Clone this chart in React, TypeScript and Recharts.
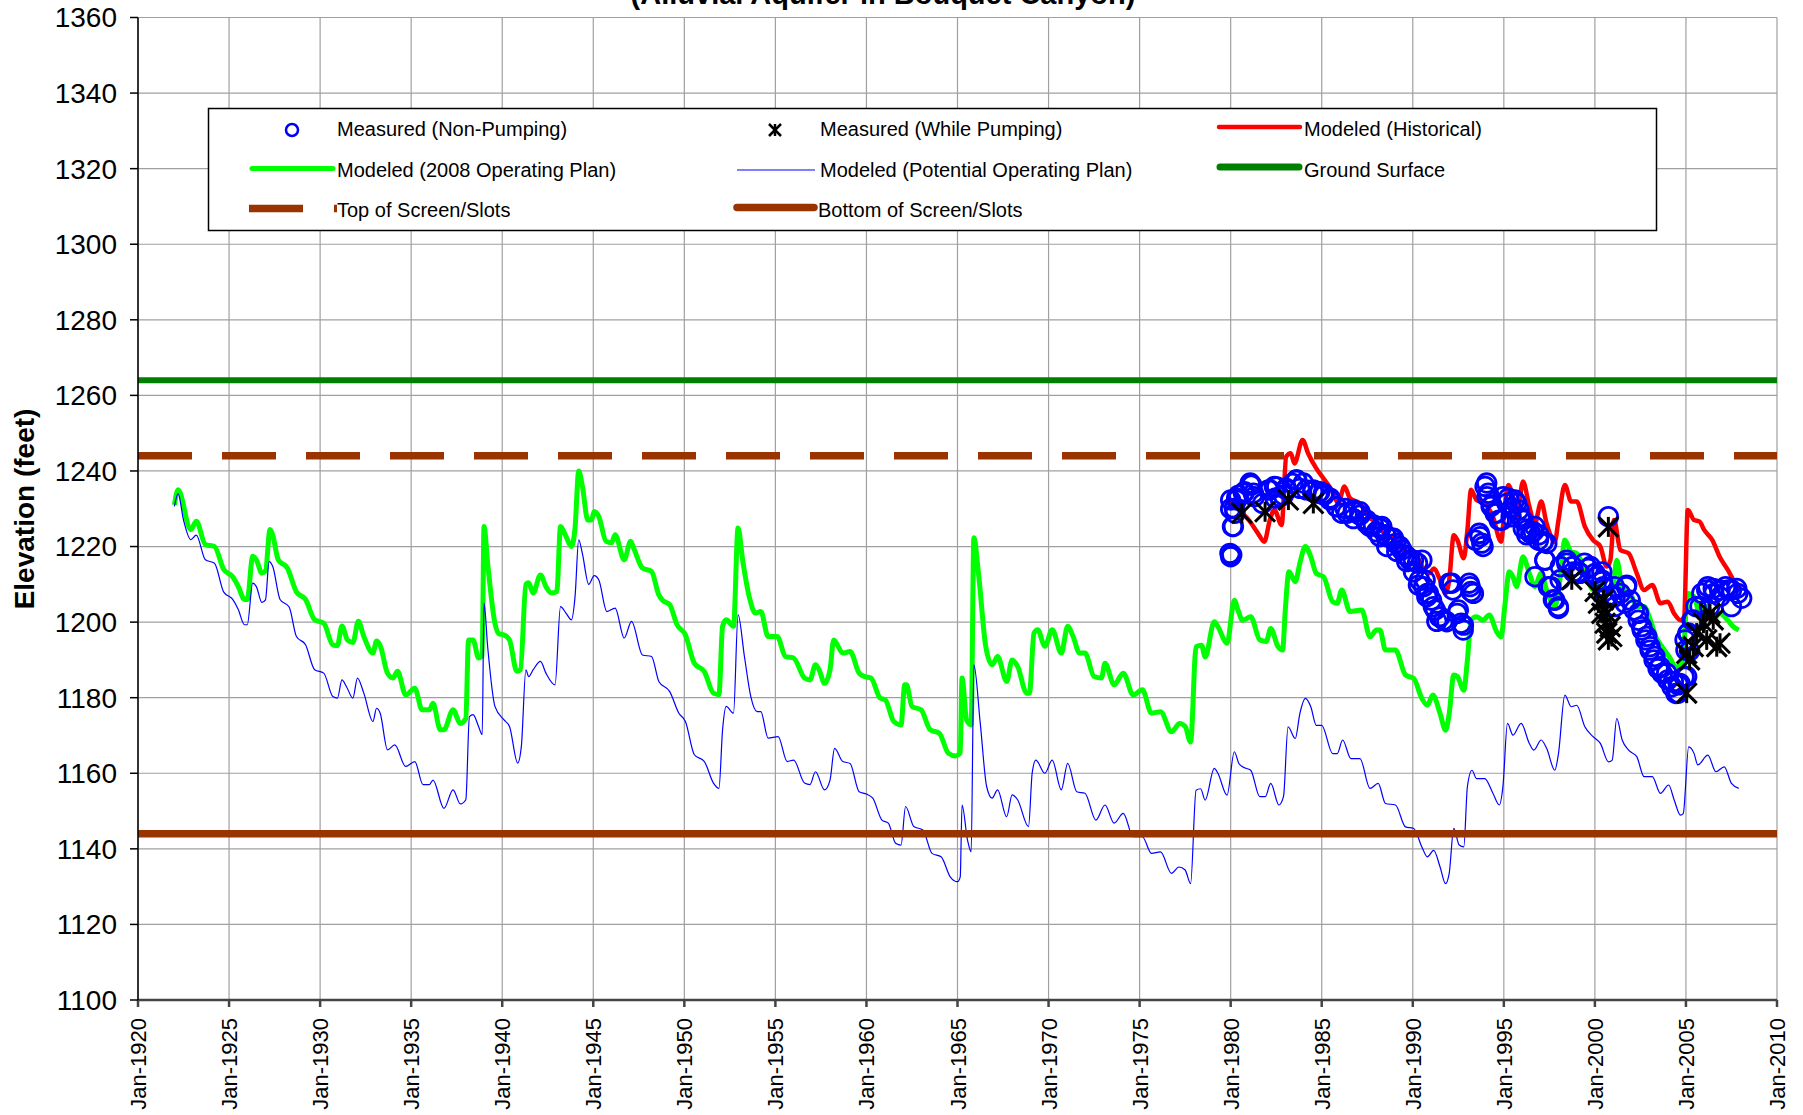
import React from 'react';
import {
  ComposedChart,
  Line,
  Scatter,
  XAxis,
  YAxis,
  CartesianGrid,
  ReferenceLine,
} from 'recharts';

// axis ticks
const YEAR_TICKS = [1920, 1925, 1930, 1935, 1940, 1945, 1950, 1955, 1960, 1965, 1970, 1975, 1980, 1985, 1990, 1995, 2000, 2005, 2010];
const ELEV_TICKS = [1100, 1120, 1140, 1160, 1180, 1200, 1220, 1240, 1260, 1280, 1300, 1320, 1340, 1360];

// constant levels (feet)
const GROUND_SURFACE = 1264;
const TOP_OF_SCREEN = 1244;
const BOTTOM_OF_SCREEN = 1144;

// Modeled (2008 Operating Plan) - [year, elevation]
const PLAN_2008: [number, number][] = [
  [1922.0, 1231], [1922.2, 1235], [1922.9, 1224.5], [1923.2, 1226.7], [1923.7, 1220.5], [1924.2, 1220],
  [1924.7, 1214], [1925.2, 1212], [1925.5, 1209.5], [1925.85, 1206], [1926.0, 1206], [1926.3, 1217.4],
  [1926.5, 1216.5], [1926.8, 1213], [1927.0, 1213.5], [1927.25, 1224.5], [1927.4, 1223], [1927.7, 1216.5],
  [1928.2, 1214.3], [1928.7, 1208], [1929.2, 1206], [1929.7, 1200.6], [1930.2, 1199.7], [1930.7, 1194],
  [1930.95, 1193.8], [1931.2, 1199], [1931.5, 1195.3], [1931.8, 1194.6], [1932.1, 1200.2], [1932.4, 1196.2],
  [1932.9, 1191.8], [1933.1, 1195], [1933.3, 1193.8], [1933.7, 1186.5], [1934.0, 1185.2], [1934.25, 1187],
  [1934.7, 1180.7], [1935.2, 1182.5], [1935.6, 1176.8], [1936.0, 1176.8], [1936.2, 1178.5], [1936.6, 1171.5],
  [1936.8, 1171.5], [1937.3, 1176.8], [1937.7, 1173.2], [1938.0, 1174.5], [1938.15, 1195.3], [1938.4, 1195.3],
  [1938.7, 1190.5], [1938.9, 1191], [1939.0, 1225.3], [1939.2, 1215.6], [1939.6, 1199.7], [1939.8, 1197],
  [1940.1, 1196.6], [1940.4, 1195.3], [1940.8, 1187], [1941.0, 1187.4], [1941.3, 1210], [1941.45, 1210.4],
  [1941.7, 1207.7], [1942.1, 1212.5], [1942.4, 1209.4], [1942.7, 1207.7], [1943.0, 1208.1], [1943.2, 1225.3],
  [1943.5, 1222.7], [1943.8, 1220], [1944.0, 1225], [1944.2, 1240], [1944.4, 1236], [1944.7, 1227],
  [1944.9, 1227], [1945.05, 1229.3], [1945.3, 1228], [1945.7, 1221.4], [1946.0, 1221], [1946.2, 1223.1],
  [1946.7, 1216.5], [1947.05, 1221.4], [1947.25, 1219.2], [1947.7, 1214.3], [1948.2, 1213.4], [1948.6, 1207.2],
  [1948.8, 1205.8], [1949.2, 1204.6], [1949.6, 1199.3], [1950.06, 1196.6], [1950.55, 1189.1], [1951.1, 1186.9],
  [1951.6, 1181.2], [1951.9, 1180.8], [1952.1, 1198.9], [1952.3, 1200.6], [1952.7, 1198.9], [1952.95, 1224.9],
  [1953.2, 1216.5], [1953.6, 1206], [1953.9, 1202.4], [1954.2, 1202.8], [1954.6, 1196.2], [1955.1, 1196.2],
  [1955.55, 1190.9], [1956.0, 1190.5], [1956.6, 1185.2], [1956.9, 1184.7], [1957.2, 1188.7], [1957.4, 1187.4],
  [1957.7, 1183.8], [1958.0, 1187.4], [1958.2, 1195.3], [1958.7, 1191.8], [1959.1, 1192.2], [1959.6, 1186.5],
  [1959.9, 1185.6], [1960.25, 1185.2], [1960.75, 1179.9], [1961.04, 1179.4], [1961.5, 1173.7], [1961.9, 1172.8],
  [1962.1, 1183.4], [1962.2, 1183.4], [1962.5, 1177.7], [1963.0, 1176.8], [1963.5, 1171.5], [1964.0, 1170.6],
  [1964.5, 1165.3], [1964.9, 1164.6], [1965.15, 1165.3], [1965.25, 1185.2], [1965.5, 1174.1], [1965.75, 1172.8],
  [1965.9, 1222.3], [1966.15, 1213], [1966.55, 1193.6], [1966.9, 1188.7], [1967.2, 1190.9], [1967.7, 1184.3],
  [1968.0, 1190], [1968.3, 1188.3], [1968.8, 1181.2], [1968.95, 1181.2], [1969.2, 1197.1], [1969.4, 1198],
  [1969.8, 1193.6], [1970.2, 1198], [1970.7, 1191.8], [1971.05, 1198.9], [1971.35, 1196.2], [1971.7, 1191.8],
  [1972.0, 1191.8], [1972.5, 1185.6], [1972.9, 1185.2], [1973.1, 1189.1], [1973.6, 1183.4], [1974.1, 1186.5],
  [1974.65, 1180.7], [1975.15, 1182.1], [1975.65, 1175.9], [1976.15, 1176.3], [1976.75, 1171], [1977.2, 1173.2],
  [1977.5, 1172.4], [1977.8, 1168.3], [1978.1, 1193.5], [1978.4, 1193.9], [1978.6, 1190.8], [1979.1, 1200.1],
  [1979.3, 1198.8], [1979.8, 1194.4], [1980.2, 1205.8], [1980.4, 1203.2], [1980.65, 1200.5], [1981.1, 1201.4],
  [1981.6, 1195.3], [1981.95, 1194.9], [1982.2, 1198.3], [1982.6, 1193.5], [1982.85, 1192.6], [1983.0, 1203.2],
  [1983.2, 1213.3], [1983.55, 1210.7], [1983.8, 1215.6], [1984.1, 1220], [1984.4, 1217.3], [1984.7, 1212.9],
  [1985.1, 1212], [1985.6, 1205.4], [1985.85, 1205], [1986.1, 1208.5], [1986.55, 1202.8], [1987.2, 1203.2],
  [1987.65, 1196.1], [1988.0, 1197.9], [1988.2, 1197.9], [1988.5, 1192.6], [1989.05, 1192.6], [1989.6, 1186],
  [1990.05, 1185.1], [1990.5, 1179.8], [1990.8, 1178], [1991.1, 1180.7], [1991.5, 1175.8], [1991.8, 1171.4],
  [1992.0, 1175.8], [1992.25, 1186], [1992.45, 1185.6], [1992.8, 1182], [1993.0, 1190], [1993.2, 1200.5],
  [1993.5, 1201.4], [1993.85, 1200.5], [1994.2, 1201.9], [1994.6, 1197.5], [1994.85, 1196.1], [1995.05, 1204.1],
  [1995.3, 1213.3], [1995.5, 1212], [1995.7, 1209.4], [1996.05, 1217.3], [1996.4, 1212.9], [1996.7, 1209.4],
  [1997.05, 1212.9], [1997.35, 1208.5], [1997.8, 1204.1], [1998.1, 1212], [1998.35, 1221.7], [1998.7, 1218.6],
  [1999.0, 1218.2], [1999.45, 1213.8], [1999.9, 1208.5], [2000.3, 1211.1], [2000.75, 1207.6], [2000.95, 1207.6],
  [2001.2, 1216.4], [2001.5, 1209.4], [2001.95, 1207.6], [2002.3, 1204.1], [2002.7, 1204.1], [2003.05, 1200.5],
  [2003.35, 1196.1], [2003.7, 1193.4], [2004.1, 1190.7], [2004.45, 1188.1], [2004.8, 1189], [2005.1, 1207.6],
  [2005.45, 1206.7], [2005.75, 1202.3], [2006.2, 1204.1], [2006.5, 1200.5], [2006.85, 1202.3], [2007.3, 1200.5],
  [2007.6, 1198.8], [2007.9, 1197.9],
];

// Modeled (Potential Operating Plan)
const PLAN_POTENTIAL: [number, number][] = [
  [1922.0, 1230.6], [1922.2, 1234], [1922.5, 1227], [1922.9, 1221.8], [1923.2, 1223], [1923.7, 1216.5],
  [1924.2, 1215.6], [1924.7, 1208], [1925.2, 1206], [1925.5, 1203.4], [1925.85, 1199.3], [1926.0, 1199.3],
  [1926.3, 1210.3], [1926.5, 1209.4], [1926.8, 1205.2], [1927.0, 1205.9], [1927.2, 1216], [1927.4, 1214.7],
  [1927.8, 1206], [1928.3, 1204], [1928.7, 1196.2], [1929.2, 1194], [1929.7, 1187.4], [1930.2, 1186.5],
  [1930.7, 1180.3], [1930.95, 1179.9], [1931.2, 1184.7], [1931.45, 1182.9], [1931.8, 1179.9], [1932.05, 1185.2],
  [1932.4, 1181.2], [1932.9, 1173.7], [1933.1, 1177.2], [1933.3, 1175.9], [1933.7, 1166.2], [1934.1, 1167.5],
  [1934.7, 1161.8], [1935.2, 1163.1], [1935.65, 1157], [1936.0, 1157], [1936.2, 1158.2], [1936.8, 1150.7],
  [1937.3, 1155.6], [1937.7, 1151.9], [1938.0, 1153], [1938.2, 1175], [1938.4, 1175.5], [1938.7, 1172.4],
  [1938.9, 1170.2], [1939.0, 1205], [1939.2, 1193.5], [1939.6, 1177.7], [1940.1, 1174.1], [1940.4, 1172.4],
  [1940.85, 1162.7], [1941.05, 1167.1], [1941.3, 1187.4], [1941.45, 1185.6], [1941.7, 1187.4], [1942.1, 1189.6],
  [1942.4, 1186.5], [1942.9, 1183.4], [1943.2, 1204.1], [1943.5, 1202.4], [1943.8, 1200.6], [1944.0, 1206.8],
  [1944.2, 1221.8], [1944.4, 1218.2], [1944.75, 1210], [1945.05, 1212.3], [1945.3, 1211.2], [1945.75, 1202.8],
  [1946.2, 1203.7], [1946.7, 1195.8], [1947.1, 1200.2], [1947.7, 1191.3], [1948.2, 1190.9], [1948.6, 1184.3],
  [1949.2, 1181.6], [1949.7, 1175.9], [1950.06, 1173.7], [1950.55, 1164.9], [1951.1, 1163.1], [1951.6, 1157.4],
  [1951.9, 1156], [1952.1, 1171.5], [1952.3, 1177.7], [1952.7, 1175.9], [1952.95, 1202], [1953.3, 1190.9],
  [1953.65, 1180.3], [1954.0, 1176.3], [1954.2, 1176.3], [1954.6, 1169.3], [1955.15, 1169.7], [1955.65, 1163.1],
  [1956.0, 1163.5], [1956.6, 1157.4], [1956.9, 1157], [1957.2, 1160.4], [1957.7, 1155.6], [1958.0, 1158.2],
  [1958.25, 1166.6], [1958.7, 1163.1], [1959.1, 1162.6], [1959.6, 1155.1], [1960.0, 1154.5], [1960.35, 1153.4],
  [1960.85, 1147.6], [1961.2, 1146.8], [1961.6, 1141.5], [1961.9, 1141], [1962.15, 1151.2], [1962.6, 1145.9],
  [1963.1, 1145], [1963.6, 1138.8], [1964.1, 1137.9], [1964.6, 1132.6], [1965.0, 1131.3], [1965.15, 1132.6],
  [1965.25, 1151.6], [1965.55, 1142.3], [1965.75, 1139.2], [1965.9, 1188.7], [1966.25, 1173.2], [1966.6, 1156.5],
  [1966.9, 1153.4], [1967.2, 1155.6], [1967.7, 1148.5], [1968.0, 1154.3], [1968.3, 1153], [1968.9, 1145.9],
  [1969.1, 1160], [1969.3, 1163.5], [1969.8, 1160], [1970.2, 1163.5], [1970.7, 1155.6], [1971.05, 1162.6],
  [1971.55, 1155.1], [1972.0, 1154.7], [1972.6, 1147.6], [1973.1, 1151.6], [1973.6, 1146.8], [1974.1, 1149.4],
  [1974.65, 1143.2], [1975.15, 1143.2], [1975.65, 1138.8], [1976.15, 1139.2], [1976.75, 1133.5], [1977.16, 1135.2],
  [1977.5, 1134.4], [1977.8, 1130.8], [1978.1, 1155.5], [1978.35, 1155.9], [1978.6, 1152.9], [1979.1, 1161.3],
  [1979.3, 1160], [1979.8, 1154.2], [1980.2, 1165.7], [1980.45, 1162.6], [1980.65, 1161.7], [1981.1, 1160.8],
  [1981.6, 1153.8], [1981.9, 1153.8], [1982.2, 1157.3], [1982.65, 1151.6], [1982.9, 1153.8], [1983.15, 1172.3],
  [1983.55, 1169.2], [1983.8, 1175.8], [1984.1, 1179.8], [1984.4, 1177.6], [1984.7, 1172.7], [1985.0, 1172.7],
  [1985.6, 1165.2], [1985.85, 1165.2], [1986.15, 1168.8], [1986.6, 1163.9], [1987.1, 1163.9], [1987.65, 1156],
  [1988.1, 1157.3], [1988.5, 1152], [1989.05, 1151.6], [1989.6, 1145.8], [1990.05, 1145.4], [1990.5, 1140.5],
  [1990.8, 1137.9], [1991.15, 1139.6], [1991.5, 1135.2], [1991.8, 1130.8], [1992.0, 1133.5], [1992.25, 1145.4],
  [1992.55, 1141], [1992.8, 1140.5], [1993.0, 1156.5], [1993.25, 1160.8], [1993.5, 1158.6], [1993.95, 1158.6],
  [1994.4, 1154.7], [1994.75, 1151.6], [1994.95, 1156.5], [1995.2, 1173.2], [1995.5, 1170.1], [1995.95, 1173.2],
  [1996.4, 1167.9], [1996.65, 1166.1], [1997.05, 1168.8], [1997.35, 1166.6], [1997.8, 1160.8], [1998.0, 1165.2],
  [1998.35, 1180.7], [1998.7, 1177.6], [1999.0, 1178], [1999.45, 1172.3], [1999.9, 1169.7], [2000.3, 1167.9],
  [2000.75, 1163], [2000.95, 1163.5], [2001.2, 1174.5], [2001.5, 1168.8], [2001.85, 1166.1], [2002.3, 1164.4],
  [2002.7, 1159.1], [2003.15, 1159.1], [2003.6, 1154.7], [2004.05, 1156.9], [2004.35, 1153], [2004.7, 1148.9],
  [2004.85, 1149.3], [2005.15, 1167], [2005.45, 1165.2], [2005.65, 1162.2], [2006.2, 1164.8], [2006.65, 1160.4],
  [2007.1, 1161.7], [2007.5, 1157.3], [2007.9, 1156],
];

// Modeled (Historical)
const HISTORICAL: [number, number][] = [
  [1980.0, 1232.3], [1980.45, 1229.7], [1981.0, 1227], [1981.5, 1223.5], [1981.85, 1221.3], [1982.15, 1227],
  [1982.4, 1229.7], [1982.8, 1225.7], [1983.05, 1243.8], [1983.3, 1244.7], [1983.5, 1242], [1983.95, 1248.2],
  [1984.25, 1244.7], [1984.7, 1240.7], [1985.1, 1238], [1985.6, 1234.5], [1985.9, 1231.4], [1986.25, 1235.9],
  [1986.55, 1232.8], [1987.1, 1231.4], [1987.55, 1227.9], [1988.1, 1226.1], [1988.5, 1223], [1989.05, 1222.2],
  [1989.6, 1218.6], [1990.05, 1218.2], [1990.6, 1214.2], [1990.9, 1212.9], [1991.15, 1214.2], [1991.5, 1211.1],
  [1991.8, 1207.6], [1992.0, 1211.1], [1992.25, 1223], [1992.45, 1221.7], [1992.8, 1216.9], [1993.0, 1224.4],
  [1993.2, 1235], [1993.5, 1232.3], [1993.95, 1231.4], [1994.4, 1227.9], [1994.85, 1221.3], [1995.05, 1230.6],
  [1995.25, 1236.3], [1995.5, 1233.2], [1995.7, 1227], [1996.05, 1237.2], [1996.4, 1230.6], [1996.7, 1226.1],
  [1997.05, 1231.9], [1997.35, 1226.1], [1997.8, 1221.3], [1998.0, 1227], [1998.35, 1236.3], [1998.7, 1231.9],
  [1999.0, 1231.9], [1999.45, 1225.3], [1999.9, 1221.7], [2000.3, 1220], [2000.65, 1214.7], [2000.85, 1216.4],
  [2001.05, 1227], [2001.4, 1219.1], [2001.85, 1218.2], [2002.3, 1212.9], [2002.7, 1208.5], [2003.15, 1209.8],
  [2003.6, 1205], [2004.0, 1205.4], [2004.35, 1202.3], [2004.7, 1200.5], [2004.9, 1201.4], [2005.1, 1229.7],
  [2005.45, 1227], [2005.75, 1226.6], [2006.0, 1224.4], [2006.45, 1221.7], [2006.85, 1217.3], [2007.3, 1213.8],
  [2007.7, 1210.3], [2007.95, 1208.5],
];

// Measured (Non-Pumping)
const MEASURED_NON_PUMPING: [number, number][] = [
  [1979.96, 1218.2], [1980.0, 1217.3], [1980.06, 1217.8], [1980.1, 1225.3], [1980.15, 1225.3], [1980.0, 1232.3],
  [1980.0, 1230], [1980.2, 1230.1], [1980.24, 1228.8], [1980.33, 1232.3], [1980.33, 1232.8], [1980.44, 1233.6],
  [1980.7, 1234.1], [1980.76, 1234.5], [1981.07, 1236.8], [1981.1, 1236.3], [1981.16, 1236.3], [1981.25, 1234.1],
  [1981.3, 1233.2], [1981.75, 1231.4], [1982.07, 1235], [1982.16, 1235], [1982.4, 1235.9], [1982.44, 1232.8],
  [1982.53, 1235.8], [1982.7, 1233.2], [1982.89, 1233.6], [1983.05, 1235.4], [1983.08, 1235], [1983.4, 1236.7],
  [1983.6, 1237.6], [1983.63, 1237.6], [1983.8, 1235.4], [1983.99, 1236.8], [1984.15, 1235], [1984.5, 1234.5],
  [1984.54, 1235], [1984.8, 1234.1], [1984.9, 1234.5], [1985.09, 1234.1], [1985.13, 1233.6], [1985.46, 1232.3],
  [1985.46, 1232.8], [1985.8, 1230.6], [1985.82, 1230.5], [1986.1, 1228.8], [1986.28, 1230.1], [1986.4, 1228.8],
  [1986.74, 1229.7], [1986.74, 1227.4], [1986.77, 1229.2], [1987.1, 1228.3], [1987.1, 1229.2], [1987.4, 1227],
  [1987.47, 1227], [1987.47, 1226.1], [1987.64, 1225.3], [1987.84, 1225.7], [1988.0, 1223.9], [1988.2, 1224.8],
  [1988.2, 1222.6], [1988.3, 1225.3], [1988.5, 1223.1], [1988.57, 1222.6], [1988.57, 1220], [1988.84, 1222.2],
  [1988.94, 1222.2], [1989.06, 1220.8], [1989.12, 1218.7], [1989.3, 1220], [1989.4, 1219.1], [1989.58, 1217.8],
  [1989.67, 1216], [1989.7, 1217.3], [1989.85, 1216.4], [1990.04, 1216.4], [1990.04, 1213.3], [1990.26, 1215.6],
  [1990.31, 1209.8], [1990.37, 1211.1], [1990.5, 1216.4], [1990.6, 1209.4], [1990.68, 1211.1], [1990.77, 1206.7],
  [1990.8, 1207.6], [1990.86, 1207.6], [1991.03, 1205.8], [1991.13, 1204.1], [1991.24, 1203.2], [1991.32, 1200.2],
  [1991.46, 1201.4], [1991.5, 1201.4], [1991.7, 1200.5], [1991.87, 1200.1], [1992.0, 1210.3], [1992.14, 1210.3],
  [1992.2, 1208.5], [1992.44, 1202.3], [1992.5, 1203.2], [1992.66, 1199.7], [1992.77, 1197.9], [1992.78, 1199.2],
  [1993.1, 1210.3], [1993.15, 1209.4], [1993.2, 1208.1], [1993.33, 1207.6], [1993.43, 1221.7], [1993.65, 1223.5],
  [1993.7, 1222.6], [1993.79, 1220.9], [1993.86, 1220], [1993.97, 1235.9], [1994.06, 1236.8], [1994.08, 1233.2],
  [1994.15, 1234.1], [1994.3, 1230.6], [1994.34, 1231], [1994.52, 1228.8], [1994.61, 1228.8], [1994.74, 1227],
  [1994.89, 1227], [1994.96, 1233.2], [1995.17, 1231.4], [1995.25, 1232.8], [1995.4, 1227.9], [1995.43, 1230.1],
  [1995.6, 1232.3], [1995.71, 1231.4], [1995.83, 1229.7], [1995.89, 1227.9], [1996.05, 1227], [1996.07, 1224.8],
  [1996.26, 1223.1], [1996.27, 1224.4], [1996.48, 1223.5], [1996.62, 1223.9], [1996.7, 1225.3], [1996.71, 1212],
  [1996.9, 1221.7], [1996.92, 1223.1], [1997.14, 1221.3], [1997.17, 1221.3], [1997.25, 1216.4], [1997.26, 1216.4],
  [1997.36, 1220.8], [1997.44, 1209.4], [1997.58, 1209.4], [1997.72, 1205.9], [1997.8, 1205.8], [1997.99, 1204.1],
  [1998.0, 1203.6], [1998.09, 1211.2], [1998.1, 1214.7], [1998.45, 1216.4], [1998.45, 1215.6], [1998.78, 1214.7],
  [1998.82, 1213.3], [1999.1, 1213.3], [1999.19, 1212.9], [1999.43, 1215.6], [1999.64, 1214.2], [1999.76, 1214.7],
  [2000.01, 1212.9], [2000.09, 1212], [2000.38, 1210.7], [2000.38, 1213.3], [2000.4, 1211.1], [2000.47, 1209.4],
  [2000.65, 1206.7], [2000.74, 1227.9], [2001.07, 1209.4], [2001.1, 1204.1], [2001.11, 1206.7], [2001.4, 1207.6],
  [2001.66, 1205], [2001.72, 1209.4], [2001.75, 1209.8], [2001.94, 1205.8], [2002.16, 1203.2], [2002.38, 1200.5],
  [2002.39, 1202.3], [2002.57, 1198.8], [2002.6, 1197.9], [2002.8, 1195.3], [2002.85, 1196.2], [2003.03, 1192.6],
  [2003.03, 1193.5], [2003.25, 1190], [2003.3, 1190.9], [2003.47, 1187.7], [2003.58, 1188.2], [2003.7, 1186.4],
  [2003.94, 1186.5], [2004.0, 1184.7], [2004.23, 1182.9], [2004.31, 1184.2], [2004.45, 1181.1], [2004.58, 1181.2],
  [2004.58, 1183.4], [2004.67, 1183.8], [2004.9, 1185.5], [2004.95, 1195.3], [2005.0, 1192.6], [2005.04, 1185.6],
  [2005.1, 1197], [2005.13, 1197.1], [2005.2, 1192.4], [2005.33, 1200.5], [2005.4, 1200.6], [2005.55, 1204.1],
  [2005.77, 1204.1], [2005.87, 1207.6], [2006.14, 1208.5], [2006.2, 1209.4], [2006.3, 1204.1], [2006.5, 1208.9],
  [2006.53, 1207.6], [2006.86, 1208.5], [2006.87, 1206.7], [2007.18, 1209.4], [2007.33, 1208.5], [2007.5, 1204.1],
  [2007.5, 1208.5], [2007.79, 1208.9], [2007.84, 1207.6], [2008.06, 1206.3],
];

// Measured (While Pumping)
const MEASURED_PUMPING: [number, number][] = [
  [1980.61, 1228.8], [1981.89, 1229.2], [1983.17, 1232.3], [1984.54, 1231.4], [1998.73, 1211.2], [2000.74, 1225.2],
  [2000.01, 1208.1], [2000.19, 1205], [2000.38, 1202.3], [2000.56, 1199.7], [2000.65, 1197.1], [2000.47, 1205.9],
  [2000.65, 1202.3], [2000.84, 1198.8], [2000.93, 1196.2], [2000.74, 1195.3], [2005.04, 1181.2], [2005.04, 1191.7],
  [2005.2, 1190], [2005.4, 1193.5], [2005.59, 1197.1], [2005.96, 1199.7], [2006.32, 1202.3], [2006.5, 1200.6],
  [2006.14, 1195.3], [2006.69, 1193.5], [2006.87, 1194.4],
];

const toPoints = (rows: [number, number][]) => rows.map(([year, elev]) => ({ year, elev }));

const FONT = "'Liberation Sans', Arial, sans-serif";
const BROWN = '#993300';

const YearTick = ({ x, y, payload }: any) => (
  <text
    x={x}
    y={y}
    transform={`rotate(-90 ${x} ${y})`}
    dy={8}
    textAnchor="end"
    fontSize={22}
    fontFamily={FONT}
    fill="#000"
  >
    {`Jan-${payload.value}`}
  </text>
);

const circleShape = (props: any) => (
  <circle cx={props.cx} cy={props.cy} r={9.3} fill="none" stroke="#0000ff" strokeWidth={2.8} />
);

const Asterisk = ({ cx, cy, r, sw }: { cx: number; cy: number; r: number; sw: number }) => (
  <g stroke="#000" strokeWidth={sw}>
    <line x1={cx - r} y1={cy - r} x2={cx + r} y2={cy + r} />
    <line x1={cx - r} y1={cy + r} x2={cx + r} y2={cy - r} />
    <line x1={cx} y1={cy - r} x2={cx} y2={cy + r} />
  </g>
);

const asteriskShape = (props: any) => <Asterisk cx={props.cx} cy={props.cy} r={10} sw={3} />;

function Overlay() {
  const text = { fontSize: 20, fontFamily: FONT, fill: '#000' };
  return (
    <svg
      width={1803}
      height={1115}
      style={{ position: 'absolute', left: 0, top: 0, pointerEvents: 'none' }}
    >
      <text x={883} y={4} textAnchor="middle" fontSize={29} fontWeight="bold" fontFamily={FONT}>
        (Alluvial Aquifer in Bouquet Canyon)
      </text>
      <text
        x={33.5}
        y={509}
        transform="rotate(-90 33.5 509)"
        textAnchor="middle"
        fontSize={28}
        fontWeight="bold"
        fontFamily={FONT}
      >
        Elevation (feet)
      </text>

      {/* legend */}
      <rect x={208.5} y={108.5} width={1448} height={122} fill="#fff" stroke="#000" strokeWidth={1.5} />

      <circle cx={292} cy={130} r={6} fill="none" stroke="#0000ff" strokeWidth={2.5} />
      <text x={337} y={136} {...text}>Measured (Non-Pumping)</text>

      <Asterisk cx={775} cy={130} r={6} sw={2.5} />
      <text x={820} y={136} {...text}>Measured (While Pumping)</text>

      <line x1={1219} y1={127} x2={1300} y2={127} stroke="#ff0000" strokeWidth={4.5} strokeLinecap="round" />
      <text x={1304} y={136} {...text}>Modeled (Historical)</text>

      <line x1={252} y1={168.5} x2={333} y2={168.5} stroke="#00ff00" strokeWidth={5} strokeLinecap="round" />
      <text x={337} y={177} {...text}>Modeled (2008 Operating Plan)</text>

      <line x1={737} y1={170} x2={815} y2={170} stroke="#0000ff" strokeWidth={1.2} />
      <text x={820} y={177} {...text}>Modeled (Potential Operating Plan)</text>

      <line x1={1220} y1={167} x2={1299} y2={167} stroke="#008000" strokeWidth={7} strokeLinecap="round" />
      <text x={1304} y={177} {...text}>Ground Surface</text>

      <line x1={249} y1={208.5} x2={337} y2={208.5} stroke={BROWN} strokeWidth={7.5} strokeDasharray="54 31" />
      <text x={337} y={217} {...text}>Top of Screen/Slots</text>

      <line x1={737} y1={207.5} x2={814} y2={207.5} stroke={BROWN} strokeWidth={7.5} strokeLinecap="round" />
      <text x={818} y={217} {...text}>Bottom of Screen/Slots</text>
    </svg>
  );
}

export default function App() {
  return (
    <div
      style={{
        position: 'absolute',
        left: 0,
        top: 0,
        width: 1803,
        height: 1115,
        background: '#fff',
        fontFamily: FONT,
      }}
    >
      <ComposedChart
        width={1803}
        height={1115}
        margin={{ top: 17.5, right: 26, bottom: 15, left: 0 }}
      >
        <CartesianGrid stroke="#a0a0a0" strokeWidth={1.2} />
        <XAxis
          dataKey="year"
          type="number"
          domain={[1920, 2010]}
          ticks={YEAR_TICKS}
          interval={0}
          height={100}
          tickSize={7}
          tickMargin={11}
          tick={<YearTick />}
          stroke="#444"
          strokeWidth={2.5}
        />
        <YAxis
          type="number"
          domain={[1100, 1360]}
          ticks={ELEV_TICKS}
          interval={0}
          width={138}
          tickSize={8}
          tickMargin={13}
          stroke="#000"
          strokeWidth={1.5}
          tick={{ fontSize: 28, fill: '#000', fontFamily: FONT }}
        />
        <Line
          data={toPoints(PLAN_2008)}
          dataKey="elev"
          type="monotone"
          stroke="#00ff00"
          strokeWidth={5}
          dot={false}
          isAnimationActive={false}
        />
        <Line
          data={toPoints(PLAN_POTENTIAL)}
          dataKey="elev"
          type="monotone"
          stroke="#0000ff"
          strokeWidth={1.2}
          dot={false}
          isAnimationActive={false}
        />
        <Line
          data={toPoints(HISTORICAL)}
          dataKey="elev"
          type="monotone"
          stroke="#ff0000"
          strokeWidth={4.5}
          dot={false}
          isAnimationActive={false}
        />
        <ReferenceLine y={GROUND_SURFACE} stroke="#008000" strokeWidth={6} />
        <ReferenceLine y={TOP_OF_SCREEN} stroke={BROWN} strokeWidth={7.5} strokeDasharray="54 30" />
        <ReferenceLine y={BOTTOM_OF_SCREEN} stroke={BROWN} strokeWidth={7.5} />
        <Scatter
          data={toPoints(MEASURED_NON_PUMPING)}
          dataKey="elev"
          shape={circleShape}
          isAnimationActive={false}
        />
        <Scatter
          data={toPoints(MEASURED_PUMPING)}
          dataKey="elev"
          shape={asteriskShape}
          isAnimationActive={false}
        />
      </ComposedChart>
      <Overlay />
    </div>
  );
}
